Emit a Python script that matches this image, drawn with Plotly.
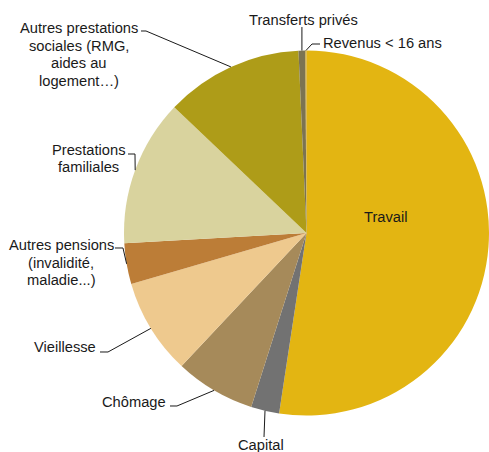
import math
import plotly.graph_objects as go

W, H = 489, 452

categories = ["Travail", "Capital", "Chômage", "Vieillesse",
              "Autres pensions (invalidité, maladie...)", "Prestations familiales",
              "Autres prestations sociales (RMG, aides au logement…)",
              "Transferts privés", "Revenus < 16 ans"]
values = [52.4, 2.5, 7.1, 8.5, 3.6, 13.0, 12.2, 0.6, 0.1]
colors = ["#E3B512", "#727272", "#A68A5A", "#EEC98E", "#BC7D37",
          "#D9D39E", "#AE9C18", "#7B7352", "#C9A227"]

label_lines = [["Travail"], ["Capital"], ["Chômage"], ["Vieillesse"],
               ["Autres pensions", "(invalidité,", "maladie...)"],
               ["Prestations", "familiales"],
               ["Autres prestations", "sociales (RMG,", "aides au", "logement…)"],
               ["Transferts privés"], ["Revenus < 16 ans"]]

# pie geometry (pixels)
left, right, top, bottom = 124, 489, 50, 416
cx = (left + right) / 2
cy = (top + bottom) / 2
R = min(right - left, bottom - top) / 2


def px(x):
    return x / W


def py(y):
    return 1 - y / H


fig = go.Figure(go.Pie(
    labels=categories, values=values, sort=False, direction="clockwise",
    rotation=0, textinfo="none", hoverinfo="label+percent",
    marker=dict(colors=colors, line=dict(width=0)),
    domain=dict(x=[px(left), px(right)], y=[py(bottom), py(top)]),
    showlegend=False,
))

# mid angles from data
total = sum(values)
mids = []
acc = 0
for v in values:
    mids.append((acc + v / 2) / total * 360)
    acc += v


def edge(i):
    a = math.radians(mids[i])
    return cx + R * math.sin(a), cy - R * math.cos(a)


# label layout: (x, block-center y, xanchor, leader points near label)
label_layout = [
    (386, 217.5, "center", None),
    (260.5, 445, "center", [(264, 437)]),
    (167, 401.5, "right", [(170, 406), (177, 406)]),
    (97, 346.5, "right", [(100, 352), (108, 352)]),
    (61, 262.5, "center", [(115, 248), (123, 248)]),
    (88, 158.5, "center", [(128, 154), (135, 154)]),
    (79, 54.5, "center", [(141, 31), (146, 31)]),
    (303, 20, "center", "vertical"),
    (321.5, 43.3, "left", [(320, 44), (312, 44)]),
]
LINE = 17.5

font = dict(family="Liberation Sans, Arial, sans-serif", size=14.7, color="#1a1a1a")
annotations = []
shapes = []
for i, (x, y, xa, pts) in enumerate(label_layout):
    lines = label_lines[i]
    n = len(lines)
    for k, t in enumerate(lines):
        ly = y + (k - (n - 1) / 2) * LINE
        annotations.append(dict(
            x=px(x), y=py(ly), xref="paper", yref="paper", text=t,
            showarrow=False, xanchor=xa, yanchor="middle", align="center",
            font=font, borderpad=0))
    if pts is None:
        continue
    ex, ey = edge(i)
    if pts == "vertical":
        pts = [(ex, 27)]
    path_pts = list(pts) + [(ex, ey)]
    d = "M " + " L ".join(f"{px(a):.5f},{py(b):.5f}" for a, b in path_pts)
    shapes.append(dict(type="path", path=d, xref="paper", yref="paper",
                       line=dict(color="#1a1a1a", width=1)))

fig.update_layout(
    width=W, height=H, margin=dict(l=0, r=0, t=0, b=0),
    paper_bgcolor="white", plot_bgcolor="white",
    annotations=annotations, shapes=shapes,
)

fig.write_html("out.html", config={"displayModeBar": False},
               post_script="document.body.style.margin='0';document.body.style.overflow='hidden';")
